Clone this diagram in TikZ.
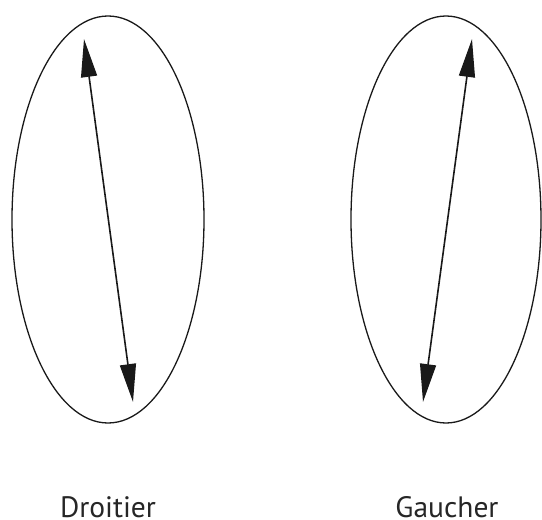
\documentclass[tikz,border=0pt]{standalone}
\usepackage{fontspec}
\setmainfont{PT Sans}
\usetikzlibrary{arrows.meta}
\begin{document}
\begin{tikzpicture}[x=1pt,y=-1pt,
  oval/.style={draw=black!90,line width=1.3pt},
  dblarrow/.style={draw=black!90,line width=1.6pt,{Triangle[length=38pt,width=16pt]}-{Triangle[length=38pt,width=16pt]}},
  lbl/.style={font=\fontsize{29.5}{33}\selectfont,text=black!85,inner sep=0pt}]
\useasboundingbox (0,0) rectangle (542,520);
\draw[oval] (108,219.5) ellipse [x radius=96, y radius=203.5];
\draw[oval] (446,219.5) ellipse [x radius=95, y radius=203.5];
\coordinate (la) at (84,39);
\coordinate (lb) at (133,402);
\coordinate (ra) at (472,39);
\coordinate (rb) at (423,402);
\draw[dblarrow] (la) -- (lb);
\draw[dblarrow] (ra) -- (rb);
\node[lbl,anchor=base] (d) at (108,517) {Droitier};
\node[lbl,anchor=base] (g) at (447,517) {Gaucher};
\end{tikzpicture}
\end{document}
